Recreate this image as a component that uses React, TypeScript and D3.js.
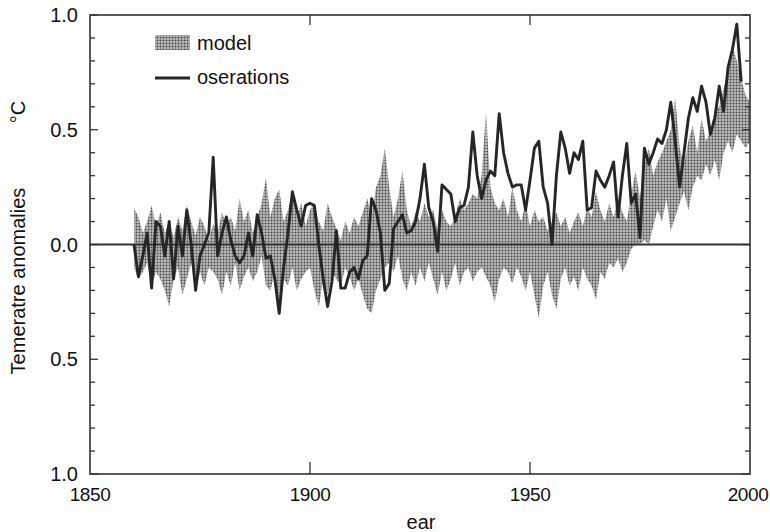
import React from "react";
import * as d3 from "d3";

const obsStart = 1860;
const observations = [
  0.00, -0.14, -0.05, 0.05, -0.19, 0.10, 0.08, -0.05, 0.10, -0.15,
  0.08, -0.05, 0.15, 0.00, -0.20, -0.05, 0.00, 0.05, 0.38, -0.05,
  0.05, 0.12, 0.02, -0.05, -0.08, -0.05, 0.05, -0.05, 0.13, 0.05,
  -0.06, -0.05, -0.15, -0.30, -0.10, 0.05, 0.23, 0.15, 0.08, 0.17,
  0.18, 0.17, 0.00, -0.15, -0.27, -0.16, 0.06, -0.19, -0.19, -0.12,
  -0.10, -0.15, -0.07, -0.05, 0.20, 0.15, 0.05, -0.20, -0.17, 0.07,
  0.10, 0.13, 0.05, 0.06, 0.10, 0.20, 0.35, 0.16, 0.10, -0.03,
  0.26, 0.24, 0.22, 0.10, 0.16, 0.17, 0.25, 0.49, 0.30, 0.20,
  0.28, 0.32, 0.30, 0.57, 0.40, 0.31, 0.25, 0.26, 0.26, 0.15,
  0.28, 0.42, 0.45, 0.25, 0.18, 0.00, 0.30, 0.49, 0.42, 0.31,
  0.40, 0.37, 0.45, 0.15, 0.16, 0.32, 0.28, 0.25, 0.30, 0.36,
  0.12, 0.30, 0.44, 0.18, 0.22, 0.03, 0.42, 0.35, 0.40, 0.46,
  0.44, 0.50, 0.62, 0.45, 0.25, 0.40, 0.55, 0.64, 0.58, 0.69,
  0.62, 0.48, 0.55, 0.69, 0.58, 0.77, 0.85, 0.96, 0.71,
];

const modelStart = 1860;
const modelHigh = [
  0.16, 0.12, 0.05, 0.10, 0.17, 0.08, 0.14, 0.05, 0.10, 0.03,
  0.12, 0.06, 0.17, 0.10, 0.04, 0.12, 0.08, 0.02, 0.09, 0.05,
  0.14, 0.08, 0.12, 0.06, 0.20, 0.10, 0.15, 0.05, 0.12, 0.18,
  0.29, 0.12, 0.20, 0.24, 0.10, 0.15, 0.23, 0.12, 0.18, 0.08,
  0.15, 0.18, 0.10, 0.06, 0.18, 0.12, 0.07, 0.02, 0.10, 0.05,
  0.12, 0.08, 0.14, 0.20, 0.12, 0.25, 0.30, 0.42, 0.25, 0.12,
  0.20, 0.32, 0.15, 0.08, 0.14, 0.10, 0.18, 0.12, 0.15, 0.06,
  0.15, 0.10, 0.08, 0.12, 0.20, 0.15, 0.18, 0.22, 0.20, 0.30,
  0.58, 0.25, 0.18, 0.15, 0.20, 0.12, 0.25, 0.15, 0.10, 0.18,
  0.08, 0.15, 0.10, 0.12, 0.06, 0.10, 0.14, 0.08, 0.12, 0.05,
  0.10, 0.14, 0.08, 0.16, 0.12, 0.23, 0.15, 0.10, 0.18, 0.12,
  0.20, 0.14, 0.10, 0.22, 0.32, 0.20, 0.35, 0.42, 0.30, 0.36,
  0.40, 0.45, 0.50, 0.64, 0.42, 0.35, 0.45, 0.52, 0.40, 0.55,
  0.45, 0.50, 0.58, 0.60, 0.68, 0.75, 0.87, 0.80, 0.72, 0.65,
  0.62,
];
const modelLow = [
  -0.10, -0.15, -0.12, -0.08, -0.18, -0.12, -0.15, -0.20, -0.27, -0.15,
  -0.10, -0.22, -0.15, -0.08, -0.20, -0.12, -0.18, -0.10, -0.12, -0.15,
  -0.22, -0.12, -0.18, -0.08, -0.20, -0.14, -0.10, -0.16, -0.12, -0.05,
  -0.18, -0.20, -0.12, -0.30, -0.15, -0.18, -0.10, -0.20, -0.15, -0.12,
  -0.10, -0.20, -0.27, -0.15, -0.22, -0.12, -0.15, -0.18, -0.10, -0.14,
  -0.20, -0.15, -0.22, -0.28, -0.30, -0.20, -0.15, -0.10, -0.08, -0.12,
  -0.05, -0.15, -0.20, -0.12, -0.18, -0.10, -0.16, -0.08, -0.15, -0.22,
  -0.12, -0.20, -0.15, -0.08, -0.18, -0.12, -0.10, -0.16, -0.12, -0.10,
  -0.14, -0.18, -0.25, -0.15, -0.10, -0.12, -0.17, -0.10, -0.14, -0.20,
  -0.12, -0.22, -0.32, -0.18, -0.12, -0.22, -0.28, -0.15, -0.10, -0.18,
  -0.14, -0.20, -0.10, -0.15, -0.18, -0.24, -0.12, -0.15, -0.08, -0.10,
  -0.06, -0.12, -0.08, -0.02, 0.00, 0.00, 0.02, 0.00, 0.08, 0.15,
  0.10, 0.20, 0.06, 0.12, 0.18, 0.23, 0.15, 0.25, 0.30, 0.28,
  0.35, 0.30, 0.37, 0.28, 0.40, 0.45, 0.40, 0.48, 0.45, 0.42,
  0.45,
];

const xTicks = [1850, 1900, 1950, 2000];
const yTicks = [-1, -0.5, 0, 0.5, 1];
const yTickLabels = ["1.0", "0.5", "0.0", "0.5", "1.0"];
const yMinorTicks = d3.range(-10, 11).map((v) => v / 10);
const legendLabels = ["model", "oserations"];
const xTitle = "ear";
const yTitle = "Temeratre anomalies";
const unitLabel = "°C";

const W = 770;
const H = 532;
const L = 90, R = 750, T = 15, B = 474;
const FONT = "'Liberation Sans', Arial, Helvetica, sans-serif";

export default function App() {
  const x = d3.scaleLinear().domain([1850, 2000]).range([L, R]);
  const y = d3.scaleLinear().domain([-1, 1]).range([B, T]);

  const model = modelHigh.map((hi, i) => ({ yr: modelStart + i, hi, lo: modelLow[i] }));
  const obs = observations.map((v, i) => ({ yr: obsStart + i, v }));

  const area = d3
    .area<{ yr: number; hi: number; lo: number }>()
    .x((d) => x(d.yr))
    .y0((d) => y(d.lo))
    .y1((d) => y(d.hi));
  const line = d3
    .line<{ yr: number; v: number }>()
    .x((d) => x(d.yr))
    .y((d) => y(d.v));

  return (
    <svg width={W} height={H} style={{ position: "absolute", left: 0, top: 0, background: "#fff" }}>
      <defs>
        <pattern id="stip" width="3" height="3" patternUnits="userSpaceOnUse">
          <rect width="3" height="3" fill="#bcbcbc" />
          <circle cx="1.5" cy="1.5" r="1" fill="#4a4a4a" />
        </pattern>
      </defs>

      <path d={area(model) || ""} fill="url(#stip)" />
      <line x1={L} x2={R} y1={y(0)} y2={y(0)} stroke="#333" strokeWidth={1.8} />
      <path d={line(obs) || ""} fill="none" stroke="#262626" strokeWidth={2.9} strokeLinejoin="round" />

      {/* frame */}
      <rect x={L} y={T} width={R - L} height={B - T} fill="none" stroke="#333" strokeWidth={1.6} />

      {/* y minor/major ticks, both sides */}
      {yMinorTicks.map((v, i) => {
        const major = Math.abs(v * 2 - Math.round(v * 2)) < 1e-6;
        const len = major ? 8 : 5;
        return (
          <g key={"yt" + i} stroke="#333" strokeWidth={1.3}>
            <line x1={L} x2={L + len} y1={y(v)} y2={y(v)} />
            <line x1={R} x2={R - len} y1={y(v)} y2={y(v)} />
          </g>
        );
      })}
      {/* x ticks */}
      {xTicks.slice(1, -1).map((t) => (
        <g key={"xt" + t} stroke="#333" strokeWidth={1.3}>
          <line x1={x(t)} x2={x(t)} y1={B} y2={B - 12} />
          <line x1={x(t)} x2={x(t)} y1={T} y2={T + 10} />
        </g>
      ))}

      {/* y labels */}
      {yTicks.map((v, i) => (
        <text key={"yl" + i} x={78} y={y(v)} dy="0.36em" textAnchor="end" fontFamily={FONT} fontSize={20} fill="#111">
          {yTickLabels[i]}
        </text>
      ))}
      {/* x labels */}
      {xTicks.map((t) => (
        <text key={"xl" + t} x={Math.min(x(t), 748)} y={501} textAnchor="middle" fontFamily={FONT} fontSize={19} letterSpacing={-0.4} fill="#111">
          {t}
        </text>
      ))}
      <text x={421} y={529} textAnchor="middle" fontFamily={FONT} fontSize={20} fill="#111">
        {xTitle}
      </text>
      <text transform="translate(25,281) rotate(-90)" textAnchor="middle" fontFamily={FONT} fontSize={20} fill="#111">
        {yTitle}
      </text>
      <text transform="translate(25,112) rotate(-90)" textAnchor="middle" fontFamily={FONT} fontSize={20} fill="#111">
        {unitLabel}
      </text>

      {/* legend */}
      <rect x={155} y={35} width={35} height={15} fill="url(#stip)" />
      <text x={197} y={50} fontFamily={FONT} fontSize={20} fill="#111">{legendLabels[0]}</text>
      <line x1={155} x2={190} y1={78} y2={78} stroke="#262626" strokeWidth={2.9} />
      <text x={197} y={84} fontFamily={FONT} fontSize={20} fill="#111">{legendLabels[1]}</text>
    </svg>
  );
}
